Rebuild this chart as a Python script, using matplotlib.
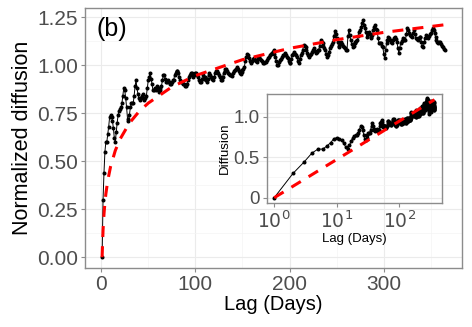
import numpy as np
import matplotlib
matplotlib.use("Agg")
import matplotlib.pyplot as plt
from matplotlib.ticker import FixedLocator

plt.rcParams["font.family"] = ["Liberation Sans", "DejaVu Sans"]

# normalized diffusion per lag (days 1..365)
diffusion = [
    0.00, 0.30, 0.44, 0.55, 0.60, 0.60, 0.64, 0.68, 0.73, 0.74,
    0.73, 0.71, 0.67, 0.62, 0.60, 0.65, 0.70, 0.74, 0.76, 0.77,
    0.78, 0.80, 0.84, 0.88, 0.87, 0.83, 0.78, 0.72, 0.71, 0.74,
    0.78, 0.80, 0.80, 0.80, 0.84, 0.89, 0.92, 0.88, 0.85, 0.83,
    0.82, 0.83, 0.84, 0.85, 0.83, 0.82, 0.83, 0.84, 0.88, 0.92,
    0.94, 0.96, 0.93, 0.90, 0.87, 0.87, 0.88, 0.87, 0.89, 0.88,
    0.86, 0.87, 0.88, 0.89, 0.92, 0.95, 0.95, 0.93, 0.91, 0.91,
    0.92, 0.91, 0.90, 0.90, 0.91, 0.92, 0.92, 0.95, 0.96, 0.97,
    0.97, 0.96, 0.94, 0.92, 0.91, 0.91, 0.90, 0.90, 0.89, 0.89,
    0.90, 0.92, 0.94, 0.95, 0.96, 0.96, 0.95, 0.94, 0.95, 0.96,
    0.96, 0.95, 0.94, 0.92, 0.91, 0.91, 0.93, 0.95, 0.93, 0.94,
    0.92, 0.91, 0.93, 0.95, 0.96, 0.95, 0.94, 0.93, 0.92, 0.94,
    0.96, 0.97, 0.97, 0.96, 0.95, 0.94, 0.92, 0.92, 0.94, 0.96,
    0.97, 0.98, 0.98, 0.97, 0.96, 0.955, 0.95, 0.95, 0.945, 0.96,
    0.97, 0.975, 0.98, 0.99, 0.98, 0.97, 0.96, 0.956, 0.965, 0.975,
    0.98, 0.99, 1.02, 1.04, 1.06, 1.05, 1.035, 1.02, 1.01, 1.02,
    1.03, 1.035, 1.025, 1.02, 1.017, 1.03, 1.04, 1.04, 1.03, 1.026,
    1.02, 1.009, 1.01, 1.015, 1.017, 1.025, 1.035, 1.043, 1.05, 1.06,
    1.061, 1.07, 1.078, 1.06, 1.043, 1.02, 1.00, 1.00, 1.015, 1.026,
    1.03, 1.043, 1.05, 1.055, 1.061, 1.05, 1.04, 1.035, 1.02, 1.009,
    1.009, 1.03, 1.052, 1.06, 1.07, 1.06, 1.05, 1.043, 1.02, 1.009,
    1.03, 1.05, 1.061, 1.08, 1.104, 1.10, 1.096, 1.08, 1.061, 1.05,
    1.043, 1.05, 1.06, 1.07, 1.08, 1.087, 1.075, 1.061, 1.07, 1.078,
    1.078, 1.10, 1.13, 1.12, 1.113, 1.10, 1.09, 1.078, 1.06, 1.043,
    1.05, 1.07, 1.09, 1.10, 1.11, 1.12, 1.15, 1.175, 1.16, 1.14,
    1.12, 1.10, 1.095, 1.11, 1.122, 1.11, 1.10, 1.095, 1.09, 1.08,
    1.078, 1.15, 1.182, 1.156, 1.13, 1.11, 1.095, 1.10, 1.113, 1.12,
    1.125, 1.13, 1.15, 1.17, 1.182, 1.20, 1.22, 1.234, 1.21, 1.191,
    1.17, 1.148, 1.16, 1.174, 1.16, 1.139, 1.145, 1.156, 1.18, 1.20,
    1.208, 1.19, 1.182, 1.14, 1.113, 1.113, 1.113, 1.10, 1.095, 1.06,
    1.035, 1.08, 1.113, 1.13, 1.148, 1.14, 1.13, 1.12, 1.113, 1.13,
    1.14, 1.148, 1.135, 1.122, 1.09, 1.061, 1.09, 1.113, 1.125, 1.139,
    1.135, 1.13, 1.13, 1.16, 1.191, 1.18, 1.165, 1.155, 1.15, 1.148,
    1.165, 1.182, 1.16, 1.139, 1.135, 1.13, 1.14, 1.148, 1.148, 1.12,
    1.10, 1.095, 1.12, 1.14, 1.156, 1.148, 1.139, 1.15, 1.16, 1.165,
    1.18, 1.191, 1.18, 1.165, 1.148, 1.13, 1.12, 1.113, 1.118, 1.122,
    1.11, 1.10, 1.095, 1.085, 1.078,
]
lags = list(range(1, len(diffusion) + 1))

# dashed red fit, read at selected lags
fit_lags = [1, 2, 3, 4, 5, 7, 10, 15, 20, 30, 40, 50, 75, 100, 150, 200, 250, 300, 365]
fit_vals = [0.0, 0.142, 0.225, 0.284, 0.330, 0.399, 0.472, 0.555, 0.614, 0.698,
            0.757, 0.802, 0.886, 0.945, 1.028, 1.087, 1.132, 1.170, 1.210]

main_yticks = [0, 0.25, 0.5, 0.75, 1.0, 1.25]
main_ylabels = ["0.00", "0.25", "0.50", "0.75", "1.00", "1.25"]
inset_yticks = [0, 0.5, 1.0]
inset_ylabels = ["0", "0.5", "1.0"]

BORDER = "#8c8c8c"
TICKC = "#4d4d4d"


def style(ax, size):
    for s in ax.spines.values():
        s.set_color(BORDER)
        s.set_linewidth(1.0)
    ax.tick_params(colors=BORDER, labelcolor=TICKC, labelsize=size,
                   length=3, width=0.8, which="major", pad=2)
    ax.tick_params(which="minor", length=0)
    ax.grid(True, which="major", color="#ebebeb", lw=0.8)
    ax.grid(True, which="minor", color="#f4f4f4", lw=0.5)
    ax.set_axisbelow(True)


fig = plt.figure(figsize=(4.72, 3.27), dpi=100)
ax = fig.add_axes([0.180, 0.180, 0.799, 0.7955])
style(ax, 15)
ax.plot(lags, diffusion, color="black", lw=0.7, marker="o", ms=1.9, zorder=3)
ax.plot(fit_lags, fit_vals, color="#ff0000", lw=2.2, ls=(0, (3.6, 3.0)), zorder=4)
ax.set_xlim(-17.2, 383.2)
ax.set_ylim(-0.057, 1.297)
ax.xaxis.set_major_locator(FixedLocator([0, 100, 200, 300]))
ax.xaxis.set_minor_locator(FixedLocator([50, 150, 250, 350]))
ax.yaxis.set_major_locator(FixedLocator(main_yticks))
ax.yaxis.set_minor_locator(FixedLocator([0.125, 0.375, 0.625, 0.875, 1.125]))
ax.set_yticklabels(main_ylabels)
ax.set_xlabel("Lag (Days)", fontsize=14.5, labelpad=1)
ax.set_ylabel("Normalized diffusion", fontsize=15.5, labelpad=3)
ax.text(0.030, 0.965, "(b)", transform=ax.transAxes, fontsize=18,
        ha="left", va="top")

# inset: log lag axis
axi = fig.add_axes([0.565, 0.379, 0.371, 0.3335])
axi.patch.set_alpha(0.0)
style(axi, 13.5)
axi.grid(False, axis="x", which="both")
axi.plot(lags, diffusion, color="black", lw=0.7, marker="o", ms=1.9, zorder=3)
axi.plot(fit_lags, fit_vals, color="#ff0000", lw=2.2, ls=(0, (3.6, 3.0)), zorder=4)
axi.set_xscale("log")
axi.set_xlim(10 ** -0.12, 10 ** 2.68)
axi.set_ylim(-0.066, 1.28)
axi.xaxis.set_major_locator(FixedLocator([1, 10, 100]))
axi.xaxis.set_minor_locator(FixedLocator([]))
axi.set_xticklabels([r"$10^0$", r"$10^1$", r"$10^2$"])
axi.yaxis.set_major_locator(FixedLocator(inset_yticks))
axi.yaxis.set_minor_locator(FixedLocator([0.25, 0.75]))
axi.set_yticklabels(inset_ylabels)
axi.set_xlabel("Lag (Days)", fontsize=9.5, labelpad=1)
axi.set_ylabel("Diffusion", fontsize=9.5, labelpad=2)

fig.savefig("out.png", dpi=100)
